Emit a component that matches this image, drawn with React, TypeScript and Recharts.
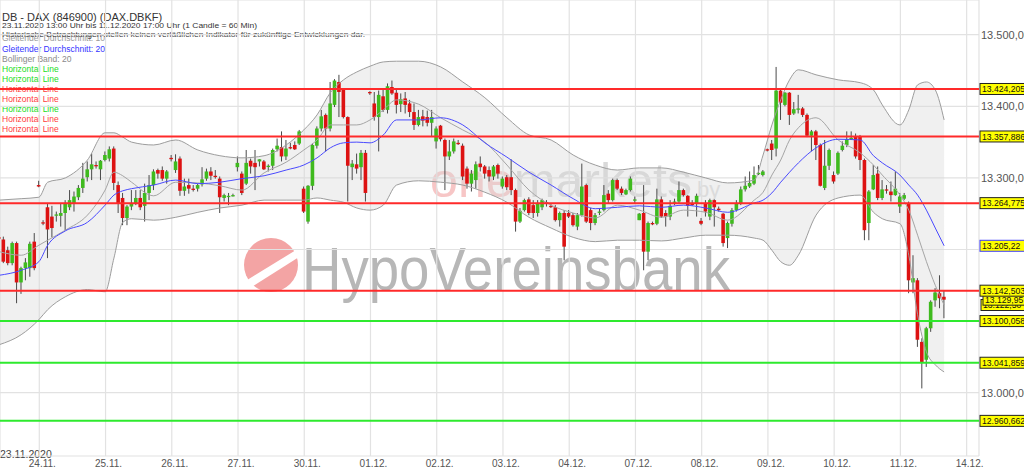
import React from 'react';
import { ComposedChart, Bar, Line, Area, XAxis, YAxis, CartesianGrid, ReferenceLine } from 'recharts';

const FONT = '"Liberation Sans", Arial, Helvetica, sans-serif';

// hourly slots: 15 per trading day (08:00 - 22:00), slot 15 = 24.11. 08:00
const FIRST_SLOT = 5;

const candleOpen = [
  13217, 13214, 13199, 13181, 13209, 13154, 13174, 13174, 13211, 13290,
  13238, 13259, 13246, 13248, 13247, 13251, 13259, 13265, 13273, 13286, 13301, 13312, 13318, 13312, 13325,
  13327, 13341, 13290, 13272, 13244, 13260, 13265, 13272, 13261, 13279, 13290, 13311, 13311, 13299, 13328,
  13311, 13327, 13282, 13290, 13285, 13285, 13291, 13299, 13309, 13303, 13299, 13272, 13274, 13275, 13315,
  13306, 13292, 13324, 13321, 13323, 13323, 13316, 13317, 13340, 13343, 13330, 13343, 13346, 13348, 13285,
  13239, 13289, 13345, 13369, 13388, 13369, 13402, 13434, 13423, 13385, 13315, 13319, 13315, 13335, 13420,
  13404, 13385, 13414, 13395, 13427, 13419, 13403, 13411, 13404, 13392, 13374, 13386, 13385, 13377, 13351,
  13373, 13353, 13330, 13337, 13349, 13345, 13313, 13292, 13297, 13320, 13316, 13311, 13302, 13318, 13288,
  13301, 13301, 13283, 13239, 13255, 13270, 13262, 13251, 13259, 13266, 13261, 13259, 13241, 13251, 13251,
  13248, 13232, 13248, 13290, 13255, 13237, 13252, 13255, 13278, 13269, 13297, 13285, 13277, 13283, 13269,
  13241, 13251, 13197, 13237, 13236, 13270, 13251, 13246, 13266, 13267, 13283, 13275, 13264, 13264, 13240,
  13265, 13246, 13269, 13257, 13250, 13216, 13236, 13255, 13265, 13284, 13288, 13292, 13306, 13304, 13340,
  13348, 13341, 13422, 13402, 13419, 13390, 13396, 13397, 13388, 13359, 13365, 13346, 13286, 13317, 13304,
  13306, 13339, 13346, 13355, 13358, 13358, 13325, 13237, 13284, 13306, 13272, 13284, 13281, 13276, 13260,
  13271, 13265, 13154, 13157, 13071, 13046, 13090, 13129, 13139, 13134,
];

const candleHigh = [
  13219, 13218, 13204, 13211, 13211, 13176, 13188, 13211, 13223, 13296,
  13241, 13265, 13261, 13253, 13265, 13269, 13283, 13281, 13290, 13321, 13323, 13334, 13323, 13325, 13337,
  13344, 13344, 13295, 13279, 13262, 13283, 13283, 13283, 13292, 13304, 13312, 13313, 13316, 13311, 13332,
  13333, 13330, 13299, 13299, 13290, 13292, 13315, 13313, 13315, 13311, 13302, 13278, 13279, 13278, 13330,
  13309, 13339, 13327, 13339, 13326, 13325, 13319, 13341, 13355, 13365, 13353, 13349, 13351, 13367, 13288,
  13290, 13348, 13372, 13395, 13390, 13434, 13438, 13444, 13425, 13386, 13325, 13334, 13339, 13339, 13421,
  13420, 13422, 13423, 13432, 13436, 13423, 13418, 13420, 13409, 13404, 13395, 13395, 13394, 13395, 13372,
  13374, 13355, 13353, 13355, 13353, 13348, 13316, 13311, 13323, 13330, 13318, 13316, 13318, 13320, 13302,
  13304, 13326, 13285, 13258, 13271, 13273, 13269, 13269, 13271, 13269, 13265, 13262, 13253, 13255, 13255,
  13251, 13251, 13320, 13292, 13258, 13251, 13258, 13290, 13283, 13299, 13299, 13288, 13285, 13302, 13274,
  13251, 13290, 13239, 13239, 13285, 13274, 13255, 13269, 13271, 13295, 13285, 13276, 13269, 13278, 13244,
  13269, 13271, 13270, 13260, 13251, 13239, 13258, 13269, 13288, 13302, 13309, 13316, 13318, 13311, 13341,
  13353, 13455, 13424, 13420, 13420, 13406, 13416, 13399, 13390, 13367, 13367, 13348, 13353, 13341, 13309,
  13337, 13351, 13365, 13365, 13362, 13360, 13327, 13283, 13318, 13316, 13297, 13290, 13295, 13309, 13279,
  13279, 13267, 13192, 13160, 13076, 13092, 13129, 13146, 13164, 13143,
];

const candleLow = [
  13216, 13181, 13178, 13178, 13125, 13138, 13157, 13162, 13171, 13287,
  13234, 13188, 13217, 13239, 13232, 13227, 13255, 13253, 13269, 13279, 13295, 13297, 13313, 13297, 13323,
  13323, 13283, 13251, 13234, 13234, 13255, 13262, 13255, 13239, 13269, 13283, 13299, 13296, 13292, 13323,
  13307, 13275, 13275, 13278, 13281, 13281, 13288, 13296, 13297, 13299, 13251, 13267, 13262, 13274, 13309,
  13276, 13290, 13306, 13283, 13316, 13311, 13309, 13311, 13337, 13323, 13325, 13340, 13339, 13346, 13251,
  13236, 13283, 13341, 13365, 13337, 13365, 13399, 13385, 13383, 13267, 13297, 13306, 13297, 13267, 13416,
  13380, 13337, 13392, 13390, 13416, 13390, 13392, 13390, 13385, 13367, 13372, 13372, 13372, 13358, 13341,
  13351, 13283, 13325, 13334, 13346, 13297, 13285, 13281, 13285, 13309, 13299, 13295, 13297, 13299, 13285,
  13283, 13276, 13225, 13237, 13253, 13248, 13244, 13246, 13255, 13260, 13258, 13239, 13232, 13185, 13244,
  13232, 13227, 13246, 13237, 13227, 13234, 13248, 13253, 13265, 13267, 13283, 13276, 13276, 13281, 13265,
  13241, 13171, 13185, 13234, 13234, 13244, 13232, 13241, 13262, 13265, 13274, 13246, 13261, 13246, 13234,
  13246, 13241, 13232, 13253, 13204, 13202, 13232, 13253, 13262, 13281, 13286, 13290, 13304, 13302, 13337,
  13325, 13330, 13381, 13400, 13374, 13388, 13390, 13385, 13357, 13337, 13325, 13288, 13283, 13311, 13292,
  13304, 13337, 13343, 13353, 13327, 13311, 13213, 13213, 13283, 13269, 13269, 13278, 13267, 13275, 13251,
  13269, 13139, 13139, 13064, 13006, 13036, 13085, 13120, 13118, 13104,
];

const candleClose = [
  13216, 13183, 13181, 13209, 13154, 13174, 13182, 13208, 13174, 13288,
  13237, 13228, 13230, 13249, 13251, 13264, 13269, 13274, 13286, 13299, 13312, 13319, 13317, 13324, 13332,
  13340, 13293, 13265, 13244, 13260, 13265, 13272, 13259, 13279, 13290, 13309, 13306, 13299, 13309, 13327,
  13323, 13282, 13288, 13285, 13284, 13290, 13298, 13309, 13303, 13302, 13273, 13276, 13275, 13276, 13321,
  13279, 13321, 13316, 13315, 13326, 13312, 13317, 13339, 13345, 13330, 13341, 13342, 13340, 13365, 13253,
  13289, 13346, 13369, 13386, 13369, 13404, 13436, 13420, 13385, 13317, 13320, 13313, 13335, 13279, 13419,
  13385, 13416, 13395, 13428, 13418, 13402, 13410, 13402, 13392, 13374, 13385, 13380, 13377, 13385, 13369,
  13354, 13330, 13337, 13351, 13348, 13302, 13292, 13306, 13319, 13315, 13306, 13302, 13316, 13306, 13299,
  13287, 13283, 13239, 13254, 13269, 13251, 13251, 13265, 13269, 13265, 13260, 13241, 13251, 13204, 13246,
  13234, 13248, 13288, 13239, 13237, 13248, 13253, 13276, 13269, 13297, 13285, 13279, 13283, 13299, 13270,
  13250, 13197, 13237, 13236, 13270, 13246, 13246, 13261, 13267, 13283, 13276, 13261, 13263, 13275, 13236,
  13253, 13269, 13259, 13255, 13209, 13237, 13255, 13265, 13284, 13289, 13293, 13304, 13307, 13309, 13339,
  13339, 13422, 13405, 13419, 13388, 13396, 13397, 13388, 13359, 13365, 13346, 13289, 13317, 13339, 13295,
  13335, 13345, 13354, 13356, 13330, 13325, 13227, 13281, 13304, 13272, 13284, 13283, 13276, 13285, 13274,
  13276, 13157, 13160, 13074, 13043, 13090, 13127, 13140, 13132, 13129.95,
];

// indicator readings at selected slots
const indicatorSlots = [
  5, 10, 14, 16, 20, 25, 29, 31, 33, 35, 40, 45, 50, 55, 60, 65, 70, 74, 77, 80,
  83, 86, 89, 92, 95, 100, 105, 110, 115, 120, 125, 130, 135, 140, 145, 150, 155, 160, 165, 170,
  176, 178, 180, 182, 184, 186, 190, 195, 200, 203, 205, 209, 211, 213, 215, 217, 219,
];
const bollingerUpper = [
  13269, 13271, 13273, 13294, 13300, 13325, 13363, 13363, 13357, 13350, 13346, 13353, 13339, 13331, 13328, 13331, 13346, 13367, 13388, 13419,
  13437, 13448, 13456, 13462, 13463, 13463, 13455, 13434, 13412, 13384, 13360, 13353, 13332, 13318, 13311, 13314, 13314, 13308, 13300, 13293,
  13297, 13332, 13374, 13409, 13437, 13451, 13444, 13437, 13433, 13423, 13402, 13374, 13395, 13430, 13434, 13423, 13381,
];
const bollingerLower = [
  13067, 13081, 13102, 13116, 13134, 13144, 13141, 13188, 13238, 13243, 13241, 13245, 13252, 13258, 13262, 13269, 13269, 13269, 13272, 13269,
  13266, 13258, 13255, 13262, 13290, 13296, 13294, 13290, 13280, 13266, 13245, 13230, 13217, 13211, 13213, 13213, 13212, 13216, 13220, 13220,
  13216, 13213, 13199, 13183, 13178, 13192, 13248, 13272, 13276, 13252, 13243, 13236, 13192, 13109, 13057, 13039, 13029,
];
const sma20 = [
  13164, 13171, 13183, 13206, 13226, 13238, 13262, 13276, 13282, 13285, 13290, 13297, 13292, 13294, 13299, 13303, 13311, 13318, 13328, 13342,
  13349, 13350, 13349, 13360, 13381, 13381, 13384, 13374, 13349, 13329, 13308, 13290, 13271, 13257, 13259, 13261, 13259, 13262, 13258, 13252,
  13265, 13269, 13279, 13294, 13308, 13321, 13342, 13354, 13353, 13331, 13321, 13304, 13290, 13276, 13255, 13230, 13205.22,
];
const sma10 = [
  13197, 13192, 13206, 13213, 13227, 13248, 13283, 13308, 13303, 13294, 13275, 13294, 13293, 13289, 13283, 13307, 13322, 13339, 13353, 13374,
  13374, 13374, 13381, 13395, 13409, 13403, 13384, 13367, 13350, 13318, 13283, 13262, 13251, 13244, 13262, 13255, 13245, 13255, 13252, 13241,
  13269, 13280, 13304, 13325, 13353, 13370, 13384, 13353, 13335, 13318, 13304, 13276, 13255, 13220, 13183, 13150, 13122.5,
];

// horizontal lines
const levelValues = [13424.205, 13357.886, 13264.775, 13142.503, 13100.058, 13041.859, 12960.662];
const levelColors = ['#ff2a2a', '#ff2a2a', '#ff2a2a', '#ff2a2a', '#2eea2e', '#2eea2e', '#2eea2e'];

// x axis (day separators)
const daySlots = [14.1, 29.1, 44.1, 59.1, 74.1, 89.1, 104.1, 119.1, 134.1, 149.1, 164.1, 179.1, 194.1, 209.1, 224.1];
const dayLabels = ['24.11.', '25.11.', '26.11.', '27.11.', '30.11.', '01.12.', '02.12.', '03.12.', '04.12.', '07.12.', '08.12.', '09.12.', '10.12.', '11.12.', '14.12.'];

const yTicks = [13000, 13100, 13200, 13300, 13400, 13500];
const yTicksCovered = [13100, 13200];

const legendLines = [
  { text: 'Horizontal Line', color: '#22dd22' },
  { text: 'Horizontal Line', color: '#22dd22' },
  { text: 'Horizontal Line', color: '#ff3b3b' },
  { text: 'Horizontal Line', color: '#ff3b3b' },
  { text: 'Horizontal Line', color: '#22dd22' },
  { text: 'Horizontal Line', color: '#ff3b3b' },
  { text: 'Horizontal Line', color: '#ff3b3b' },
];

const fmt = (v: number, digits: number) => {
  const [i, f] = v.toFixed(digits).split('.');
  return i.replace(/\B(?=(\d{3})+(?!\d))/g, '.') + (f ? ',' + f : '');
};

const candles: any[] = candleOpen.map((o, i) => ({
  s: FIRST_SLOT + i,
  o,
  h: candleHigh[i],
  l: candleLow[i],
  c: candleClose[i],
  range: [candleLow[i], candleHigh[i]],
}));
indicatorSlots.forEach((s, j) => {
  const row = candles[s - FIRST_SLOT];
  row.upper = bollingerUpper[j];
  row.lower = bollingerLower[j];
  row.band = [bollingerLower[j], bollingerUpper[j]];
  row.sma20 = sma20[j];
  row.sma10 = sma10[j];
});

const Candle = (props: any) => {
  const { x, y, width, height, payload } = props;
  if (x == null || y == null) return null;
  const top = Math.min(y, y + height);
  const span = Math.abs(height);
  const { o, h, l, c } = payload;
  const ratio = h > l ? span / (h - l) : 0;
  const yOf = (v: number) => top + (h - v) * ratio;
  const cx = x + width / 2;
  const bodyTop = yOf(Math.max(o, c));
  const bodyH = Math.max(yOf(Math.min(o, c)) - bodyTop, 1.3);
  const up = c >= o;
  return (
    <g>
      <line x1={cx} x2={cx} y1={top} y2={top + span} stroke="#4a4a4a" strokeWidth={1} />
      <rect x={cx - 1.8} y={bodyTop} width={3.6} height={bodyH} fill={up ? '#3fba1e' : '#dd1212'} />
    </g>
  );
};

const DayTick = (props: any) => {
  const { x, y, index } = props;
  return (
    <text x={x + 3} y={y + 11} textAnchor="middle" fontSize={10} fontFamily={FONT} fill="#555">
      {dayLabels[index]}
    </text>
  );
};

const boxLabel = (text: string, border: string, dx = 0, dy = 0) => (props: any) => {
  const vb = props.viewBox;
  if (!vb) return null;
  const x = vb.x + vb.width + 1 + dx;
  const y = vb.y + dy;
  return (
    <g>
      <rect x={x} y={y - 5.5} width={60} height={11} fill="#ffff00" stroke={border} strokeWidth={1} />
      <text x={x + 2} y={y + 3.3} fontSize={8.6} fontFamily={FONT} fill="#111">
        {text}
      </text>
    </g>
  );
};

const Backdrop = () => (
  <svg width={1024} height={476} style={{ position: 'absolute', left: 0, top: 0 }}>
    {/* watermark */}
    <text x={430} y={197} fontSize={48} fontFamily={FONT} textLength={262} lengthAdjust="spacingAndGlyphs">
      <tspan fill="#f7c6c6">one</tspan>
      <tspan fill="#d9d9d9">markets</tspan>
    </text>
    <text x={697} y={197} fontSize={22} fontFamily={FONT} fill="#dedede">by</text>
    <circle cx={271} cy={265} r={27} fill="#f3a4a4" />
    <polygon points="244,282 296,250 299,257 247,290" fill="#ffffff" />
    <text x={302} y={290} fontSize={62} fontFamily={FONT} fill="#b7b7b7" textLength={428} lengthAdjust="spacingAndGlyphs">
      HypoVereinsbank
    </text>
    {/* header */}
    <text x={2} y={20.5} fontSize={11} fontFamily={FONT} fill="#333">DB - DAX (846900) (DAX.DBKF)</text>
    <text x={2} y={27.8} fontSize={7.6} fontFamily={FONT} fill="#333" textLength={255} lengthAdjust="spacingAndGlyphs">
      23.11.2020 13:00 Uhr bis 11.12.2020 17:00 Uhr (1 Candle = 60 Min)
    </text>
    <text x={2} y={41} fontSize={8.5} fontFamily={FONT} fill="#9a9a9a">Gleitender Durchschnitt: 10</text>
    <text x={2} y={36.6} fontSize={7.6} fontFamily={FONT} fill="#444" textLength={363} lengthAdjust="spacingAndGlyphs">
      Historische Betrachtungen stellen keinen verläßlichen Indikator für zukünftige Entwicklungen dar.
    </text>
    <text x={2} y={52} fontSize={8.5} fontFamily={FONT} fill="#3535ff">Gleitender Durchschnitt: 20</text>
    <text x={2} y={62} fontSize={8.5} fontFamily={FONT} fill="#8a8a8a">Bollinger Band: 20</text>
    {legendLines.map((item, i) => (
      <text key={i} x={2} y={72.3 + i * 10} fontSize={8.5} fontFamily={FONT} fill={item.color}>
        {item.text}
      </text>
    ))}
    <text x={0} y={458} fontSize={10.5} fontFamily={FONT} fill="#444">23.11.2020</text>
  </svg>
);

export default function App() {
  return (
    <div style={{ position: 'absolute', left: 0, top: 0, width: 1024, height: 476, overflow: 'hidden', background: '#fff' }}>
      <Backdrop />
      <div style={{ position: 'absolute', left: 0, top: 0 }}>
        <ComposedChart width={1024} height={476} data={candles} margin={{ top: 0, right: 0, bottom: 0, left: 0 }}>
          <CartesianGrid stroke="#e2e2e2" strokeWidth={1.2} />
          <XAxis
            type="number"
            dataKey="s"
            domain={[5.2, 226.9]}
            allowDataOverflow
            ticks={daySlots}
            interval={0}
            height={20}
            tickLine={false}
            axisLine={false}
            tickSize={0}
            tickMargin={0}
            tick={<DayTick />}
          />
          <YAxis
            orientation="right"
            width={45}
            domain={[12911.6, 13548.5]}
            allowDataOverflow
            ticks={yTicks}
            interval={0}
            tickLine={false}
            axisLine={false}
            tickSize={0}
            tickMargin={2}
            tick={{ fill: '#555', fontSize: 11, fontFamily: FONT }}
            tickFormatter={(v: number) => (yTicksCovered.includes(v) ? '' : fmt(v, 2))}
          />
          <Area dataKey="band" type="monotone" connectNulls stroke="none" fill="#d8d8d8" fillOpacity={0.38} isAnimationActive={false} />
          <Line dataKey="upper" type="monotone" connectNulls dot={false} stroke="#9d9d9d" strokeWidth={1} isAnimationActive={false} />
          <Line dataKey="lower" type="monotone" connectNulls dot={false} stroke="#9d9d9d" strokeWidth={1} isAnimationActive={false} />
          <Line dataKey="sma10" type="monotone" connectNulls dot={false} stroke="#a5a5a5" strokeWidth={1} isAnimationActive={false} />
          <Line dataKey="sma20" type="monotone" connectNulls dot={false} stroke="#4a4aff" strokeWidth={1} isAnimationActive={false} />
          <Bar dataKey="range" barSize={4} shape={<Candle />} isAnimationActive={false} />
          <ReferenceLine y={13205.22} stroke="none" label={boxLabel('13.205,22', '#3b3bff')} />
          <ReferenceLine y={13122.5} stroke="none" label={boxLabel('13.122,50', '#222', 1)} />
          <ReferenceLine y={13129.95} stroke="none" label={boxLabel('13.129,95', '#222', 3)} />
          {levelValues.map((v, i) => (
            <ReferenceLine
              key={v}
              y={v}
              stroke={levelColors[i]}
              strokeWidth={2}
              label={boxLabel(fmt(v, 3), '#222')}
            />
          ))}
        </ComposedChart>
      </div>
    </div>
  );
}
